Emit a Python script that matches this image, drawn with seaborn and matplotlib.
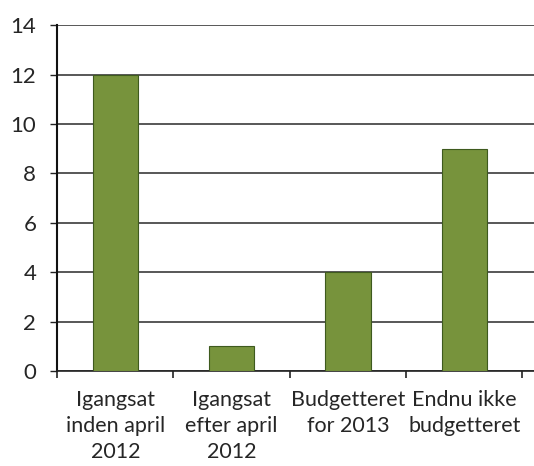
import matplotlib
matplotlib.use("Agg")
import matplotlib.pyplot as plt
import seaborn as sns
import pandas as pd

categories = ["Igangsat\ninden april\n2012", "Igangsat\nefter april\n2012",
              "Budgetteret\nfor 2013", "Endnu ikke\nbudgetteret"]
values = [12, 1, 4, 9]
yticks = [0, 2, 4, 6, 8, 10, 12, 14]

sns.set_style("white")
plt.rcParams['font.family'] = ['Lato', 'DejaVu Sans']

df = pd.DataFrame({"kategori": categories, "antal": values})

fig = plt.figure(figsize=(5.34, 4.66), dpi=100)
ax = fig.add_axes([0.107, 0.204, 0.893, 0.742])
sns.barplot(data=df, x="kategori", y="antal", color="#77933C", saturation=1,
            width=0.39, edgecolor="#3E5A1E", linewidth=0.8, ax=ax, zorder=3)

ax.set_ylim(0, 14)
ax.set_xlim(-0.5, 3.6)
ax.set_yticks(yticks)
ax.yaxis.grid(True, color="#2a2a2a", linewidth=1.1, zorder=0)
ax.set_axisbelow(True)
ax.set_xlabel(""); ax.set_ylabel("")
ax.tick_params(axis="y", labelsize=16, length=5, width=1, color="#222222", direction="out", left=True, pad=10)
ax.tick_params(axis="x", which="major", labelsize=15.5, length=0, pad=14)
ax.set_xticks([-0.5, 0.5, 1.5, 2.5, 3.5], minor=True)
ax.tick_params(axis="x", which="minor", length=5, width=1.2, color="#222222", direction="out", bottom=True)
for s in ["top", "right"]:
    ax.spines[s].set_visible(False)
ax.spines["left"].set_color("#111111"); ax.spines["left"].set_linewidth(1.5)
ax.spines["bottom"].set_color("#222222"); ax.spines["bottom"].set_linewidth(1.2)
for lbl in ax.get_xticklabels():
    lbl.set_linespacing(1.36)

fig.savefig("out.png", dpi=100)
